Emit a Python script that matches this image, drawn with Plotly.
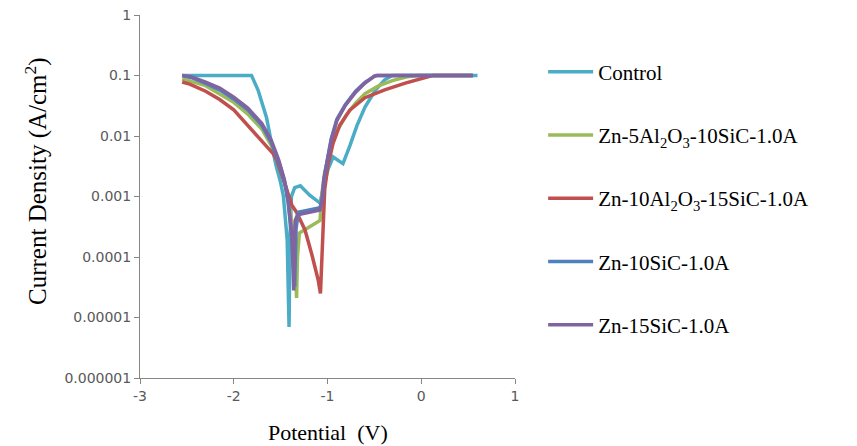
import plotly.graph_objects as go

# ---- data (potential V, current density A/cm2) ----
series_names = [
    "Control",
    "Zn-5Al<sub>2</sub>O<sub>3</sub>-10SiC-1.0A",
    "Zn-10Al<sub>2</sub>O<sub>3</sub>-15SiC-1.0A",
    "Zn-10SiC-1.0A",
    "Zn-15SiC-1.0A",
]

control_v = [-2.55, -1.81, -1.74, -1.65, -1.59, -1.55, -1.50, -1.47, -1.43, -1.415, -1.41, -1.40,
             -1.385, -1.35, -1.29, -1.19, -1.08, -1.04, -0.995, -0.94, -0.89, -0.835, -0.76,
             -0.685, -0.60, -0.49, -0.39, -0.31, 0.60]
control_i = [0.1, 0.1, 0.057, 0.02, 0.0066, 0.0033, 0.0017, 0.001, 0.00019, 2e-5, 7e-6, 0.0002,
             0.001, 0.0014, 0.0015, 0.00105, 0.00078, 0.0015, 0.0028, 0.0045, 0.004, 0.0035, 0.007,
             0.015, 0.03, 0.057, 0.085, 0.1, 0.1]

al5_v = [-2.55, -2.3, -2.0, -1.85, -1.7, -1.6, -1.5, -1.44, -1.4, -1.36, -1.33, -1.32, -1.30,
         -1.08, -1.06, -1.03, -0.98, -0.9, -0.8, -0.7, -0.6, -0.45, -0.3, -0.15, -0.05, 0.55]
al5_i = [0.088, 0.068, 0.036, 0.023, 0.013, 0.007, 0.003, 0.0014, 0.0006, 0.00022, 2.1e-5, 0.0001,
         0.00025, 0.0004, 0.0011, 0.0025, 0.0055, 0.012, 0.022, 0.035, 0.05, 0.068, 0.083, 0.095,
         0.1, 0.1]

al10_v = [-2.55, -2.47, -2.3, -2.15, -2.0, -1.83, -1.7, -1.58, -1.54, -1.45, -1.38, -1.33, -1.24,
          -1.165, -1.10, -1.075, -1.06, -1.05, -1.03, -0.995, -0.94, -0.87, -0.76, -0.6, -0.39,
          -0.17, 0.06, 0.12, 0.55]
al10_i = [0.078, 0.072, 0.055, 0.04, 0.027, 0.014, 0.0085, 0.0051, 0.004, 0.0015, 0.00072, 0.00055,
          0.00028, 0.000107, 4.2e-5, 2.5e-5, 0.00013, 0.0004, 0.0013, 0.0033, 0.0076, 0.015, 0.027,
          0.043, 0.058, 0.075, 0.095, 0.1, 0.1]

sic10_v = [-2.55, -2.45, -2.3, -2.15, -2.0, -1.85, -1.7, -1.6, -1.52, -1.46, -1.42, -1.38, -1.35,
           -1.335, -1.31, -1.2, -1.08, -1.055, -1.035, -1.0, -0.96, -0.9, -0.81, -0.7, -0.6, -0.5,
           -0.47, 0.55]
sic10_i = [0.1, 0.092, 0.074, 0.058, 0.041, 0.027, 0.015, 0.0078, 0.0037, 0.0018, 0.0008, 0.0002,
           3.2e-5, 0.0003, 0.00055, 0.0006, 0.00065, 0.0009, 0.002, 0.0042, 0.009, 0.019, 0.033,
           0.055, 0.077, 0.097, 0.1, 0.1]

sic15_v = [-2.55, -2.45, -2.3, -2.15, -2.0, -1.85, -1.7, -1.6, -1.52, -1.46, -1.42, -1.38, -1.36,
           -1.345, -1.32, -1.2, -1.08, -1.06, -1.04, -1.0, -0.96, -0.9, -0.81, -0.7, -0.6, -0.5,
           -0.48, 0.55]
sic15_i = [0.1, 0.095, 0.078, 0.062, 0.044, 0.029, 0.016, 0.0085, 0.004, 0.0019, 0.00087, 0.00023,
           2.8e-5, 0.0004, 0.0005, 0.00055, 0.0006, 0.00087, 0.0019, 0.004, 0.0085, 0.018, 0.032,
           0.053, 0.075, 0.098, 0.1, 0.1]

x_ticks = [-3, -2, -1, 0, 1]
y_ticks = [1e-6, 1e-5, 1e-4, 1e-3, 1e-2, 1e-1, 1]
y_tick_text = ["0.000001", "0.00001", "0.0001", "0.001", "0.01", "0.1", "1"]

colors = ["#4BACC6", "#9BBB59", "#C0504D", "#4F81BD", "#8064A2"]
all_v = [control_v, al5_v, al10_v, sic10_v, sic15_v]
all_i = [control_i, al5_i, al10_i, sic10_i, sic15_i]

fig = go.Figure()
for k, (name, v, i, c) in enumerate(zip(series_names, all_v, all_i, colors)):
    fig.add_trace(go.Scatter(x=v, y=i, mode="lines", name=name, legendgroup=f"g{k}",
                             line=dict(color=c, width=3.5)))

tick_font = dict(family="DejaVu Sans", size=14, color="#595959")
serif = "Liberation Serif"

fig.update_layout(
    width=849, height=438,
    margin=dict(l=132, r=342, t=7, b=68, autoexpand=False),
    paper_bgcolor="white", plot_bgcolor="white",
    showlegend=True,
    legend=dict(x=1.075, y=0.8995, xanchor="left", yanchor="top",
                font=dict(family=serif, size=21, color="black"),
                itemwidth=45, tracegroupgap=33, bgcolor="rgba(0,0,0,0)"),
    xaxis=dict(range=[-3, 1], tickvals=x_ticks, ticktext=[str(t) for t in x_ticks],
               showgrid=False, zeroline=False, showline=True, linecolor="#868686",
               linewidth=1, ticks="outside", ticklen=5, tickcolor="#868686",
               tickfont=tick_font, ticklabeloverflow="allow", automargin=False),
    yaxis=dict(type="log", range=[-6, 0], tickvals=y_ticks, ticktext=y_tick_text,
               showgrid=False, zeroline=False, showline=True, linecolor="#868686",
               linewidth=1, ticks="outside", ticklen=5, tickcolor="#868686",
               tickfont=tick_font, ticklabeloverflow="allow", automargin=False),
    annotations=[
        dict(text="Potential  (V)", xref="paper", yref="paper", x=0.5, y=-0.1515,
             xanchor="center", yanchor="middle", showarrow=False,
             font=dict(family=serif, size=22, color="black")),
        dict(text="Current Density (A/cm<sup>2</sup>)", xref="paper", yref="paper",
             x=-0.2747, y=0.5427, xanchor="center", yanchor="middle", textangle=-90,
             showarrow=False, font=dict(family=serif, size=25, color="black")),
    ],
)

fig.write_html("out.html")
